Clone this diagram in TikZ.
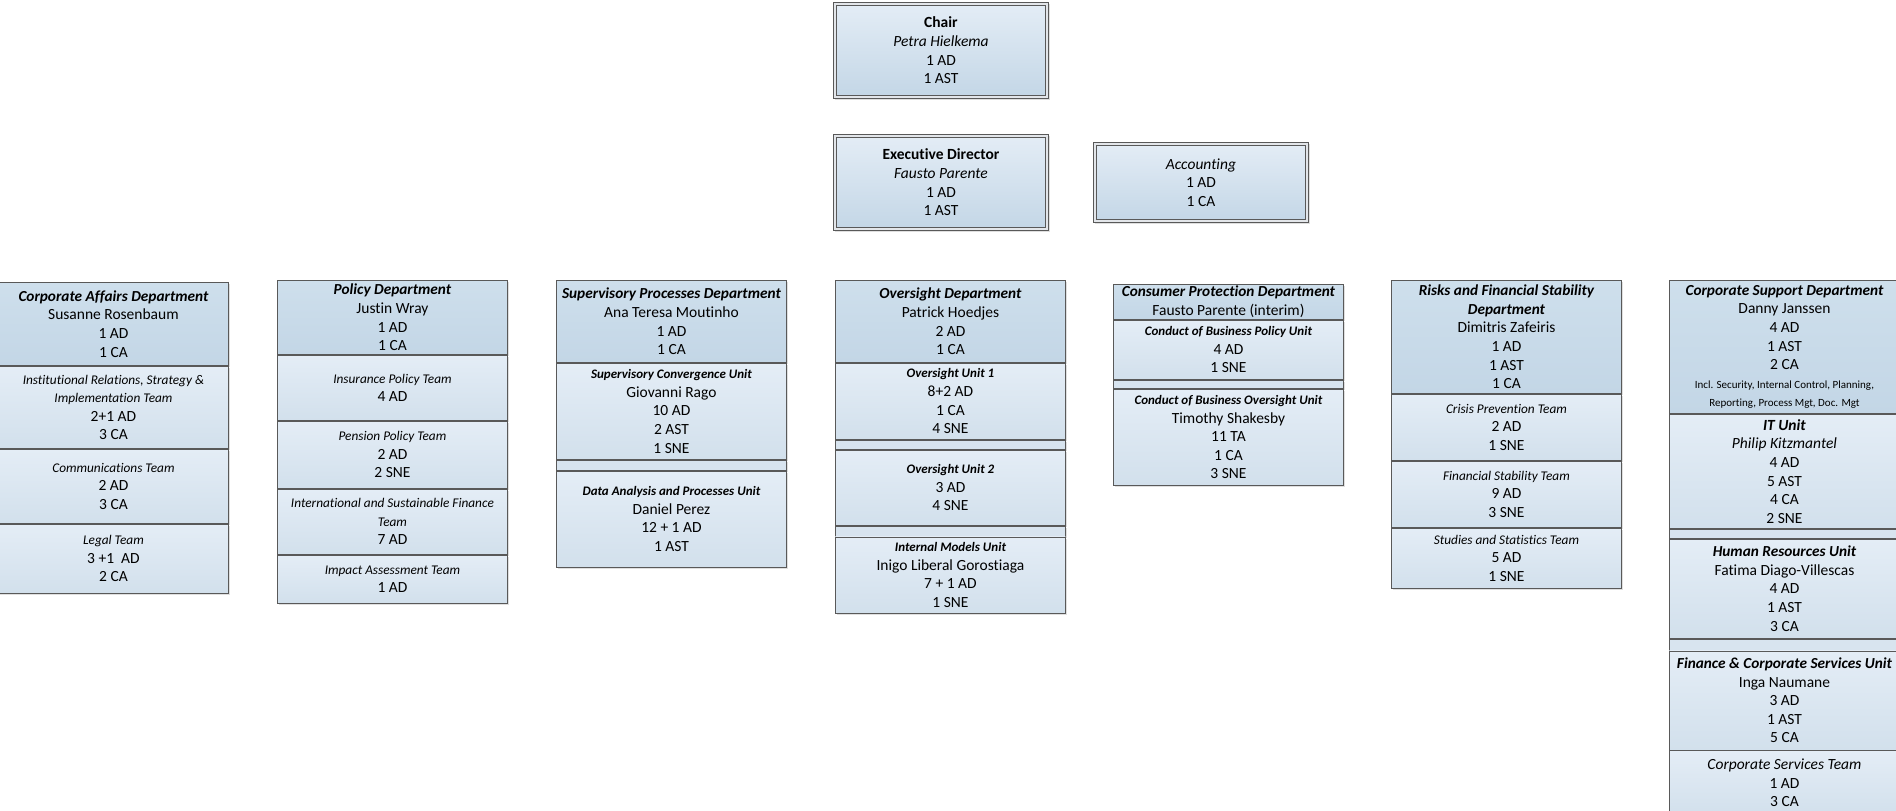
\documentclass[tikz,border=0pt]{standalone}
\usepackage{fontspec}
\setmainfont[Ligatures=NoCommon]{Carlito}
\usetikzlibrary{positioning, shadows}

\definecolor{boxline}{HTML}{595959}
\definecolor{bandfill}{HTML}{E3E6EA}
\definecolor{headtop}{HTML}{CEDFEC}
\definecolor{headbot}{HTML}{C3D6E6}
\definecolor{unittop}{HTML}{E4EDF6}
\definecolor{unitbot}{HTML}{D2E0EC}
\definecolor{gapfill}{HTML}{D8E4EF}

% text helpers
\newcommand{\deptname}[1]{{\fontsize{15.3}{18.6}\selectfont\spaceskip=0pt\xspaceskip=0pt\bfseries\itshape #1}}
\newcommand{\teamname}[1]{{\fontsize{13.3}{18.6}\selectfont\spaceskip=0pt\xspaceskip=0pt\itshape #1}}
\newcommand{\unitname}[1]{{\fontsize{13}{18.6}\selectfont\spaceskip=0pt\xspaceskip=0pt\bfseries\itshape #1}}
\newcommand{\notetext}[1]{{\fontsize{11}{18.6}\selectfont\spaceskip=0pt\xspaceskip=0pt #1}}

\begin{document}
\begin{tikzpicture}[x=1pt, y=-1pt,
    box/.style={rectangle, draw=boxline, line width=0.9pt, anchor=north west,
                minimum width=230, text width=226, inner xsep=2, inner ysep=0,
                align=flush center, font=\fontsize{15.5}{18.6}\selectfont,
                execute at begin node={\spaceskip=0pt\xspaceskip=0pt},
                drop shadow={shadow xshift=2pt, shadow yshift=-2pt,
                             fill=black!25, opacity=0.5}},
    topbox/.style={box, minimum width=215, text width=211,
                   top color=unittop, bottom color=headbot},
    band/.style={draw=bandfill, line width=2.2pt},
    inframe/.style={draw=boxline, line width=0.9pt},
    head/.style={box, top color=headtop, bottom color=headbot},
    unit/.style={box, anchor=north, top color=unittop, bottom color=unitbot},
    gapbox/.style={box, anchor=north, fill=gapfill, drop shadow={opacity=0}},
  ]
    \useasboundingbox (0,0) rectangle (1896,811);

    % Leitung
    \node[topbox, minimum height=96] (chair) at (833,2)
      {\textbf{Chair}\\\textit{Petra Hielkema}\\1 AD\\1 AST};
    \node[topbox, minimum height=96] (ed) at (833,134)
      {\textbf{Executive Director}\\\textit{Fausto Parente}\\1 AD\\1 AST};
    \node[topbox, minimum height=80] (acc) at (1093,142)
      {\textit{Accounting}\\1 AD\\1 CA};
    \foreach \b in {chair,ed,acc} {
      \draw[band] ([xshift=1.8pt,yshift=-1.8pt]\b.north west)
        rectangle ([xshift=-1.8pt,yshift=1.8pt]\b.south east);
      \draw[inframe] ([xshift=3.4pt,yshift=-3.4pt]\b.north west)
        rectangle ([xshift=-3.4pt,yshift=3.4pt]\b.south east);
    }

    % Corporate Affairs
    \node[head, minimum height=83] (cad) at (-2,282)
      {\deptname{Corporate Affairs Department}\\Susanne Rosenbaum\\1 AD\\1 CA};
    \node[unit, minimum height=82, below=0pt of cad] (irs)
      {\teamname{Institutional Relations, Strategy \&}\\\teamname{Implementation Team}\\2+1 AD\\3 CA};
    \node[unit, minimum height=74, below=0pt of irs] (com)
      {\teamname{Communications Team}\\2 AD\\3 CA};
    \node[unit, minimum height=69, below=0pt of com] (leg)
      {\teamname{Legal Team}\\3 +1~ AD\\2 CA};

    % Policy
    \node[head, minimum height=74] (pol) at (277,280)
      {\deptname{Policy Department}\\Justin Wray\\1 AD\\1 CA};
    \node[unit, minimum height=65, below=0pt of pol] (ipt)
      {\teamname{Insurance Policy Team}\\4 AD};
    \node[unit, minimum height=67, below=0pt of ipt] (ppt)
      {\teamname{Pension Policy Team}\\2 AD\\2 SNE};
    \node[unit, minimum height=65, below=0pt of ppt] (isf)
      {\teamname{International and Sustainable Finance}\\\teamname{Team}\\7 AD};
    \node[unit, minimum height=48, below=0pt of isf] (iat)
      {\teamname{Impact Assessment Team}\\1 AD};

    % Supervisory Processes
    \node[head, minimum height=82] (spd) at (556,280)
      {\deptname{Supervisory Processes Department}\\Ana Teresa Moutinho\\1 AD\\1 CA};
    \node[unit, minimum height=96, below=0pt of spd] (scu)
      {\unitname{Supervisory Convergence Unit}\\Giovanni Rago\\10 AD\\2 AST\\1 SNE};
    \node[gapbox, minimum height=10, below=0pt of scu] (spg) {};
    \node[unit, minimum height=96, below=0pt of spg] (dap)
      {\unitname{Data Analysis and Processes Unit}\\Daniel Perez\\12 + 1 AD\\1 AST};

    % Oversight
    \node[head, minimum height=82] (ovd) at (835,280)
      {\deptname{Oversight Department}\\Patrick Hoedjes\\2 AD\\1 CA};
    \node[unit, minimum height=76, below=0pt of ovd] (ou1)
      {\unitname{Oversight Unit 1}\\8+2 AD\\1 CA\\4 SNE};
    \node[gapbox, minimum height=9, below=0pt of ou1] (ovg1) {};
    \node[unit, minimum height=75, below=0pt of ovg1] (ou2)
      {\unitname{Oversight Unit 2}\\3 AD\\4 SNE};
    \node[gapbox, minimum height=10, below=0pt of ou2] (ovg2) {};
    \node[unit, minimum height=76, below=0pt of ovg2] (imu)
      {\unitname{Internal Models Unit}\\Inigo Liberal Gorostiaga\\7 + 1 AD\\1 SNE};

    % Consumer Protection
    \node[head, minimum height=35] (cpd) at (1113,284)
      {\deptname{Consumer Protection Department}\\Fausto Parente (interim)};
    \node[unit, minimum height=59, below=0pt of cpd] (cbp)
      {\unitname{Conduct of Business Policy Unit}\\4 AD\\1 SNE};
    \node[gapbox, minimum height=8, below=0pt of cbp] (cpg) {};
    \node[unit, minimum height=96, below=0pt of cpg] (cbo)
      {\unitname{Conduct of Business Oversight Unit}\\Timothy Shakesby\\11 TA\\1 CA\\3 SNE};

    % Risks and Financial Stability
    \node[head, minimum height=113] (rfs) at (1391,280)
      {\deptname{Risks and Financial Stability}\\\deptname{Department}\\Dimitris Zafeiris\\1 AD\\1 AST\\1 CA};
    \node[unit, minimum height=66, below=0pt of rfs] (cpt)
      {\teamname{Crisis Prevention Team}\\2 AD\\1 SNE};
    \node[unit, minimum height=66, below=0pt of cpt] (fst)
      {\teamname{Financial Stability Team}\\9 AD\\3 SNE};
    \node[unit, minimum height=60, below=0pt of fst] (sst)
      {\teamname{Studies and Statistics Team}\\5 AD\\1 SNE};

    % Corporate Support
    \node[head, minimum height=133] (csd) at (1669,280)
      {\deptname{Corporate Support Department}\\Danny Janssen\\4 AD\\1 AST\\2 CA\\
       \notetext{Incl. Security, Internal Control, Planning,}\\
       \notetext{Reporting, Process Mgt, Doc. Mgt}};
    \node[unit, minimum height=114, below=0pt of csd] (itu)
      {\textbf{\textit{IT Unit}}\\\textit{Philip Kitzmantel}\\4 AD\\5 AST\\4 CA\\2 SNE};
    \node[gapbox, minimum height=9, below=0pt of itu] (csg1) {};
    \node[unit, minimum height=99, below=0pt of csg1] (hru)
      {\deptname{Human Resources Unit}\\Fatima Diago-Villescas\\4 AD\\1 AST\\3 CA};
    \node[gapbox, minimum height=11, below=0pt of hru] (csg2) {};
    \node[unit, minimum height=99, below=0pt of csg2] (fcs)
      {\deptname{Finance \& Corporate Services Unit}\\Inga Naumane\\3 AD\\1 AST\\5 CA};
    \node[unit, minimum height=64, below=0pt of fcs] (cst)
      {\textit{Corporate Services Team}\\1 AD\\3 CA};
  \end{tikzpicture}
\end{document}
